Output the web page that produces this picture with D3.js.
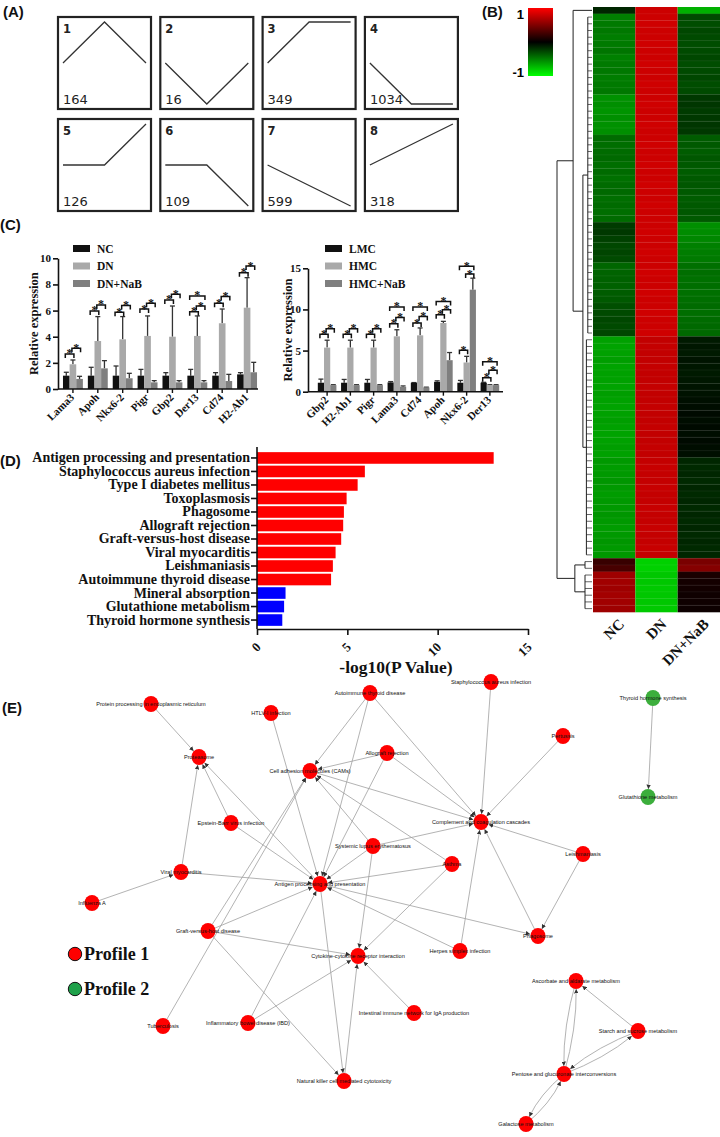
<!DOCTYPE html>
<html><head><meta charset="utf-8">
<script src="https://cdn.jsdelivr.net/npm/d3@7"></script>
<style>body{margin:0;background:#fff}</style>
</head><body><svg id="fig" width="720" height="1137"></svg>
<script>
// ================= DATA =================
// Panel A: STEM profiles
const profileIds = [1,2,3,4,5,6,7,8];
const profileShapes = [[0,1,0],[0,-1,0],[0,1,1],[0,-1,-1],[0,0,1],[0,0,-1],[0,-0.5,-1],[0,0.5,1]];
const profileCounts = [164,16,349,1034,126,109,599,318];

// Panel B: heatmap (rows x 3 groups)
const heatCols = ["NC","DN","DN+NaB"];
const heatNC = [
 -0.15,
 -0.50,-0.48,-0.47,-0.49,-0.48,-0.46,-0.50,-0.48,-0.47,-0.49,-0.48,-0.47,
 -0.57,-0.56,-0.58,-0.56,-0.57,-0.56,
 -0.42,-0.43,-0.42,-0.41,-0.43,-0.42,-0.44,-0.42,-0.41,-0.43,-0.42,-0.43,-0.42,
 -0.23,-0.22,-0.25,-0.28,-0.27,-0.29,
 -0.40,-0.39,-0.38,-0.38,-0.36,-0.35,-0.31,-0.29,-0.28,-0.29,-0.28,
 -0.63,-0.64,-0.63,-0.62,-0.64,-0.63,-0.63,-0.64,-0.62,-0.63,-0.64,-0.63,-0.62,-0.63,-0.64,-0.63,-0.62,-0.63,
 -0.60,-0.61,-0.60,-0.59,-0.60,-0.61,-0.60,-0.60,-0.59,-0.60,-0.61,-0.60,-0.59,-0.60,-0.60,
 0.22,0.28,
 0.62,0.63,0.62,0.64,0.63,0.62];
const heatDN = [
 0.80,
 0.80,0.81,0.80,0.80,0.81,0.80,0.80,0.81,0.80,0.80,0.81,0.80,
 0.80,0.81,0.80,0.80,0.81,0.80,
 0.80,0.81,0.80,0.80,0.81,0.80,0.80,0.81,0.80,0.80,0.81,0.80,0.80,
 0.80,0.81,0.80,0.80,0.81,0.80,
 0.80,0.81,0.80,0.80,0.81,0.80,0.80,0.81,0.80,0.80,0.81,
 0.76,0.77,0.76,0.76,0.77,0.76,0.76,0.77,0.76,0.76,0.77,0.76,0.76,0.77,0.76,0.76,0.77,0.76,
 0.77,0.78,0.77,0.77,0.78,0.77,0.77,0.78,0.77,0.77,0.78,0.77,0.77,0.78,0.77,
 -0.82,-0.82,
 -0.78,-0.78,-0.79,-0.78,-0.78,-0.79];
const heatNaB = [
 -0.69,
 -0.29,-0.30,-0.28,-0.29,-0.30,-0.29,-0.28,-0.30,-0.29,-0.28,-0.30,-0.29,
 -0.22,-0.21,-0.23,-0.22,-0.21,-0.22,
 -0.36,-0.35,-0.36,-0.34,-0.35,-0.36,-0.35,-0.34,-0.35,-0.36,-0.35,-0.34,-0.35,
 -0.56,-0.55,-0.53,-0.50,-0.49,-0.48,
 -0.44,-0.43,-0.44,-0.43,-0.44,-0.43,-0.42,-0.43,-0.42,-0.41,-0.41,
 -0.10,-0.09,-0.10,-0.08,-0.09,-0.10,-0.09,-0.08,-0.07,-0.06,-0.05,-0.04,-0.05,-0.04,-0.05,-0.04,-0.05,-0.06,
 -0.15,-0.16,-0.15,-0.16,-0.15,-0.16,-0.15,-0.16,-0.15,-0.16,-0.15,-0.16,-0.15,-0.16,-0.15,
 0.48,0.52,
 0.10,0.08,0.07,0.06,0.06,0.05];
// dendrogram: internal nodes {h, kids}, leaf groups {rows:[first,last], h}
const dendro = {h:1, kids:[
  {h:0.54, kids:[{rows:[0,0], h:0}, {h:0.26, kids:[{rows:[1,48], h:0.12},{rows:[49,81], h:0.16}]}]},
  {h:0.49, kids:[{rows:[82,83], h:0.2},{rows:[84,89], h:0.2}]}
]};

// Panel C left (in vivo)
const genesL = ["Lama3","Apoh","Nkx6-2","Pigr","Gbp2","Der13","Cd74","H2-Ab1"];
const seriesL = ["NC","DN","DN+NaB"];
const ncL   = [1.02,1.02,1.02,1.02,1.02,1.02,1.02,1.12];
const ncErrL= [0.26,0.64,0.74,0.48,0.23,0.48,0.23,0.13];
const dnL   = [1.89,3.67,3.80,4.06,4.00,4.06,5.03,6.22];
const dnErrL= [0.33,1.87,1.74,1.53,2.35,1.53,1.09,2.30];
const nabL  = [0.77,1.58,0.82,0.51,0.51,0.51,0.61,1.28];
const nabErrL=[0.20,0.59,0.38,0.13,0.13,0.13,0.51,0.76];
const sigL = [[0,0,1,2.68],[0,1,2,3.11],[1,0,1,5.97],[1,1,2,6.43],[2,0,1,5.87],[2,1,2,6.38],
  [3,0,1,6.12],[3,1,2,6.56],[4,0,1,6.81],[4,1,2,7.24],[5,0,1,5.92],[5,1,2,6.35],[5,0,2,7.12],
  [6,0,1,6.56],[6,1,2,7.07],[7,0,1,8.90],[7,1,2,9.41]];
const yTicksL = [0,2,4,6,8,10];

// Panel C right (in vitro)
const genesR = ["Gbp2","H2-Ab1","Pigr","Lama3","Cd74","Apoh","Nkx6-2","Der13"];
const seriesR = ["LMC","HMC","HMC+NaB"];
const lmcR   = [1.09,1.09,1.09,1.13,1.09,1.20,1.09,1.09];
const lmcErrR= [0.44,0.40,0.40,0.10,0.02,0.12,0.28,0.05];
const hmcR   = [5.36,5.36,5.36,6.73,6.85,8.35,3.55,0.80];
const hmcErrR= [0.90,0.90,0.90,0.80,0.90,0.20,0.75,0.05];
const nabR   = [0.80,0.80,0.80,0.60,0.52,3.83,12.40,0.80];
const nabErrR= [0.05,0.05,0.05,0.10,0.03,0.93,1.40,0.05];
const sigR = [[0,0,1,6.98],[0,1,2,7.66],[1,0,1,6.98],[1,1,2,7.66],[2,0,1,6.98],[2,1,2,7.66],
  [3,0,1,8.27],[3,1,2,9.03],[3,0,2,10.3],[4,0,1,8.35],[4,1,2,9.15],[4,0,2,10.3],
  [5,0,1,9.35],[5,1,2,9.96],[5,0,2,10.97],[6,0,1,5.04],[6,1,2,14.3],[6,0,2,15.24],
  [7,0,1,1.69],[7,1,2,2.62],[7,0,2,3.63]];
const yTicksR = [0,5,10,15];

// Panel D: KEGG enrichment
const pathways = ["Antigen processing and presentation","Staphylococcus aureus infection","Type I diabetes mellitus",
  "Toxoplasmosis","Phagosome","Allograft rejection","Graft-versus-host disease","Viral myocarditis",
  "Leishmaniasis","Autoimmune thyroid disease","Mineral absorption","Glutathione metabolism","Thyroid hormone synthesis"];
const logP = [13.1,5.97,5.57,4.96,4.81,4.77,4.66,4.35,4.2,4.1,1.58,1.5,1.4];
const pathwayProfile = [1,1,1,1,1,1,1,1,1,1,2,2,2];
const xTicksD = [0,5,10,15];

// Panel E: pathway network
const netNames = ["Protein processing in endoplasmic reticulum","HTLV-I infection","Autoimmune thyroid disease",
  "Staphylococcus aureus infection","Thyroid hormone synthesis","Pertussis","Proteasome","Allograft rejection",
  "Cell adhesion molecules (CAMs)","Glutathione metabolism","Complement and coagulation cascades",
  "Epstein-Barr virus infection","Systemic lupus erythematosus","Leishmaniasis","Asthma","Viral myocarditis",
  "Antigen processing and presentation","Influenza A","Graft-versus-host disease","Phagosome",
  "Herpes simplex infection","Cytokine-cytokine receptor interaction","Ascorbate and aldarate metabolism",
  "Intestinal immune network for IgA production","Inflammatory bowel disease (IBD)","Tuberculosis",
  "Starch and sucrose metabolism","Pentose and glucuronate interconversions",
  "Natural killer cell mediated cytotoxicity","Galactose metabolism"];
const netProfile = [1,1,1,1,2,1,1,1,1,2,1,1,1,1,1,1,1,1,1,1,1,1,1,1,1,1,1,1,1,1];
// network layout (layout units from the original force layout)
const netLayout = [[151,74],[271,83],[370,63],[491,52],[653,68],[563,106],[199,127],[387,123],[310,141],
  [648,167],[481,192],[231,193],[373,216],[583,224],[452,234],[181,242],[320,254],[92,273],[208,301],
  [538,306],[460,321],[358,326],[576,351],[414,383],[248,393],[163,396],[638,401],[564,444],[344,451],[526,494]];
// edges [source, target, curved]
const netEdges = [[0,6],[11,6],[15,6],[16,6],[17,15],[11,16],[15,16],[1,16],
  [2,8],[2,16],[2,10],[7,8],[7,16],[7,10],[3,10],[5,10],[13,10],[13,19],[8,10],
  [12,8],[12,16],[12,10],[12,21],[14,16],[14,8],[14,21],[20,10],[20,16],[16,19],[19,10],
  [18,21],[18,16],[18,8],[18,28],[24,21],[24,16],[23,21],[25,8],[16,28],[28,21],[4,9],
  [22,27,1],[27,22,1],[26,22],[26,27,1],[27,26,1],[29,27,1],[27,29,1]];
const legendE = ["Profile 1","Profile 2"];

// ================= DRAWING =================
const SERIF = "'Liberation Serif','Times New Roman',serif";
const SANS = "'Liberation Sans',Arial,sans-serif";
const svg = d3.select("#fig");
svg.append("rect").attr("width",720).attr("height",1137).attr("fill","#fff");

function panelLabel(t,x,y){
  svg.append("text").attr("x",x).attr("y",y).text(t).attr("font-family",SANS)
    .attr("font-weight","bold").attr("font-size",15).attr("fill","#111");
}
panelLabel("(A)",3,17); panelLabel("(B)",482,17); panelLabel("(C)",0,230);
panelLabel("(D)",0,466); panelLabel("(E)",2,713);

// ---------- Panel A ----------
profileIds.forEach((id,i)=>{
  const bx = 58 + (i%4)*102.3, by = 17 + Math.floor(i/4)*102;
  const g = svg.append("g").attr("transform",`translate(${bx},${by})`);
  g.append("rect").attr("width",93).attr("height",92).attr("fill","#fff")
    .attr("stroke","#222").attr("stroke-width",2.2);
  const xs = d3.scaleLinear().domain([0,2]).range([5,88]);
  const ys = d3.scaleLinear().domain([-1,1]).range([87,5]);
  g.append("path").datum(profileShapes[i]).attr("d",d3.line().x((d,j)=>xs(j)).y(d=>ys(d)))
    .attr("fill","none").attr("stroke","#333").attr("stroke-width",1.3);
  g.append("text").attr("x",5).attr("y",16).text(id).attr("font-family","'DejaVu Sans',sans-serif")
    .attr("font-weight","bold").attr("font-size",11.5).attr("fill","#222");
  g.append("text").attr("x",5).attr("y",87).text(profileCounts[i]).attr("font-family","'DejaVu Sans',sans-serif")
    .attr("font-size",13).attr("fill","#222");
});

// ---------- Panel B ----------
(function(){
  const nRows = heatNC.length;
  const colX = d3.scaleBand().domain(heatCols).range([593,720]);
  const rowY = d3.scaleBand().domain(d3.range(nRows)).range([7,612]);
  const color = d3.scaleLinear().domain([-1,0,1]).range(["#00ff00","#000000","#ff0000"]);
  const cols = [heatNC,heatDN,heatNaB];
  const g = svg.append("g");
  cols.forEach((arr,ci)=>{
    g.selectAll(null).data(arr).join("rect")
      .attr("x",colX(heatCols[ci])).attr("y",(d,r)=>rowY(r))
      .attr("width",colX.bandwidth()).attr("height",rowY.bandwidth()+0.3)
      .attr("fill",d=>color(d));
  });
  g.selectAll(null).data(d3.range(1,nRows)).join("line")
    .attr("x1",593).attr("x2",720).attr("y1",r=>rowY(r)).attr("y2",r=>rowY(r))
    .attr("stroke","rgba(255,255,255,0.10)").attr("stroke-width",0.6);
  const hx = d3.scaleLinear().domain([0,1]).range([592,557]);
  const ry = r => rowY(r)+rowY.bandwidth()/2;
  const dg = svg.append("g").attr("stroke","#222").attr("stroke-width",1).attr("fill","none");
  function lay(node){
    if(node.rows){
      const [a,b] = node.rows;
      if(a===b){ return {y:ry(a), h:node.h}; }
      const x = hx(node.h);
      dg.append("line").attr("x1",x).attr("x2",x).attr("y1",ry(a)).attr("y2",ry(b));
      d3.range(a,b+1).forEach(r=>dg.append("line").attr("x1",x).attr("x2",hx(0)).attr("y1",ry(r)).attr("y2",ry(r)).attr("stroke-width",0.7));
      return {y:(ry(a)+ry(b))/2, h:node.h};
    }
    const ch = node.kids.map(lay);
    const x = hx(node.h);
    dg.append("line").attr("x1",x).attr("x2",x).attr("y1",ch[0].y).attr("y2",ch[1].y);
    ch.forEach(c=>dg.append("line").attr("x1",x).attr("x2",hx(c.h)).attr("y1",c.y).attr("y2",c.y));
    return {y:(ch[0].y+ch[1].y)/2, h:node.h};
  }
  lay(dendro);
  heatCols.forEach(c=>{
    svg.append("text").attr("transform",`translate(${colX(c)+colX.bandwidth()/2+11},625) rotate(-45)`)
      .attr("text-anchor","end").text(c).attr("font-family",SERIF).attr("font-weight","bold")
      .attr("font-size",15).attr("fill","#111");
  });
  const defs = svg.append("defs");
  const grad = defs.append("linearGradient").attr("id","hg").attr("x1",0).attr("x2",0).attr("y1",0).attr("y2",1);
  [[0,1],[0.5,0],[1,-1]].forEach(([o,v])=>grad.append("stop").attr("offset",o).attr("stop-color",color(v)));
  svg.append("rect").attr("x",528).attr("y",8).attr("width",25).attr("height",68).attr("fill","url(#hg)");
  svg.append("text").attr("x",524).attr("y",19).attr("text-anchor","end").text("1")
    .attr("font-family",SANS).attr("font-weight","bold").attr("font-size",13);
  svg.append("text").attr("x",524).attr("y",77).attr("text-anchor","end").text("-1")
    .attr("font-family",SANS).attr("font-weight","bold").attr("font-size",13);
})();

// ---------- Panel C ----------
function drawBars(cfg){
  const g = svg.append("g");
  const x0 = d3.scaleBand().domain(cfg.genes).range([cfg.x1,cfg.x2]).paddingInner(0.2).paddingOuter(cfg.po);
  const xs = d3.scaleBand().domain([0,1,2]).range([0,x0.bandwidth()]);
  const y = d3.scaleLinear().domain([0,cfg.ymax]).range([cfg.y0,cfg.yTop]);
  const colors = ["#111111","#a9a9a9","#7f7f7f"];
  cfg.genes.forEach((gn,i)=>{
    [0,1,2].forEach(s=>{
      const v = cfg.vals[s][i], e = cfg.errs[s][i];
      const bx = x0(gn)+xs(s), bw = xs.bandwidth(), cx = bx+bw/2;
      g.append("line").attr("x1",cx).attr("x2",cx).attr("y1",y(v)).attr("y2",y(v+e)).attr("stroke","#333").attr("stroke-width",1.3);
      g.append("line").attr("x1",cx-2.5).attr("x2",cx+2.5).attr("y1",y(v+e)).attr("y2",y(v+e)).attr("stroke","#333").attr("stroke-width",1.3);
      g.append("rect").attr("x",bx).attr("y",y(v)).attr("width",bw).attr("height",y(0)-y(v)).attr("fill",colors[s]);
    });
  });
  cfg.sig.forEach(([gi,a,b,h])=>{
    const gn = cfg.genes[gi];
    const xa = x0(gn)+xs(a)+xs.bandwidth()/2-1, xb = x0(gn)+xs(b)+xs.bandwidth()/2+1, yy = y(h);
    g.append("path").attr("d",`M${xa},${yy+4}V${yy}H${xb}V${yy+4}`).attr("fill","none").attr("stroke","#111").attr("stroke-width",1.5);
    g.append("text").attr("x",(xa+xb)/2).attr("y",yy+3.5).attr("text-anchor","middle").text("*")
      .attr("font-family",SERIF).attr("font-weight","bold").attr("font-size",12).attr("fill","#111");
  });
  const ya = g.append("g").attr("transform",`translate(${cfg.ax},0)`)
    .call(d3.axisLeft(y).tickValues(cfg.ticks).tickSize(5).tickSizeOuter(0).tickPadding(2));
  ya.selectAll("path,line").attr("stroke","#111").attr("stroke-width",1.6);
  ya.selectAll("text").attr("font-family",SERIF).attr("font-weight","bold").attr("font-size",11).attr("fill","#111");
  g.append("line").attr("x1",cfg.ax).attr("x2",cfg.axEnd).attr("y1",cfg.y0).attr("y2",cfg.y0).attr("stroke","#111").attr("stroke-width",1.6);
  cfg.genes.forEach(gn=>{
    const cx = x0(gn)+x0.bandwidth()/2;
    g.append("line").attr("x1",cx).attr("x2",cx).attr("y1",cfg.y0).attr("y2",cfg.y0+4).attr("stroke","#111").attr("stroke-width",1.4);
    g.append("text").attr("transform",`translate(${cx+2},${cfg.y0+9}) rotate(-45)`).attr("text-anchor","end")
      .text(gn).attr("font-family",SERIF).attr("font-weight","bold").attr("font-size",11).attr("fill","#111");
  });
  g.append("text").attr("transform",`translate(${cfg.titleX},${(cfg.y0+cfg.yTop)/2}) rotate(-90)`)
    .attr("text-anchor","middle").text("Relative expression").attr("font-family",SERIF)
    .attr("font-weight","bold").attr("font-size",12.5).attr("fill","#111");
  cfg.series.forEach((s,k)=>{
    g.append("rect").attr("x",cfg.legX).attr("y",245+k*17.5).attr("width",17).attr("height",7).attr("fill",colors[k]);
    g.append("text").attr("x",cfg.legX+24).attr("y",252.5+k*17.5).text(s).attr("font-family",SERIF)
      .attr("font-weight","bold").attr("font-size",11.5).attr("fill","#111");
  });
}
drawBars({genes:genesL, series:seriesL, vals:[ncL,dnL,nabL], errs:[ncErrL,dnErrL,nabErrL], sig:sigL,
  ticks:yTicksL, ymax:10, x1:58, x2:262, po:0.2, ax:58, axEnd:258, y0:389, yTop:258.3, titleX:38, legX:73});
drawBars({genes:genesR, series:seriesR, vals:[lmcR,hmcR,nabR], errs:[lmcErrR,hmcErrR,nabErrR], sig:sigR,
  ticks:yTicksR, ymax:15, x1:312, x2:505, po:0.25, ax:308, axEnd:503, y0:391.7, yTop:268.3, titleX:292, legX:325});

// ---------- Panel D ----------
(function(){
  const g = svg.append("g");
  const x = d3.scaleLinear().domain([0,15]).range([257,528]);
  const y = d3.scaleBand().domain(pathways).range([451.2,626.8]).paddingInner(0.14).paddingOuter(0.07);
  g.selectAll(null).data(pathways).join("rect")
    .attr("x",x(0)).attr("y",d=>y(d)).attr("width",(d,i)=>x(logP[i])-x(0)).attr("height",y.bandwidth())
    .attr("fill",(d,i)=>pathwayProfile[i]===1?"#ff0000":"#0000ff");
  const ya = g.append("g").attr("transform",`translate(${x(0)},0)`)
    .call(d3.axisLeft(y).tickSize(6).tickSizeOuter(0).tickPadding(1));
  ya.select(".domain").attr("d",`M0,447V629`);
  ya.selectAll("path,line").attr("stroke","#111").attr("stroke-width",1.6);
  ya.selectAll("text").attr("font-family",SERIF).attr("font-weight","bold").attr("font-size",14).attr("fill","#111");
  const xa = g.append("g").attr("transform",`translate(0,629)`)
    .call(d3.axisBottom(x).tickValues(xTicksD).tickSize(6).tickSizeOuter(0).tickFormat(d3.format("d")));
  xa.selectAll("path,line").attr("stroke","#111").attr("stroke-width",1.6);
  xa.selectAll("text").attr("text-anchor","end").attr("dy",null).attr("y",null)
    .attr("transform","translate(4,19) rotate(-45)")
    .attr("font-family",SERIF).attr("font-weight","bold").attr("font-size",13).attr("fill","#111");
  g.append("text").attr("x",396).attr("y",673).attr("text-anchor","middle").text("-log10(P Value)")
    .attr("font-family",SERIF).attr("font-weight","bold").attr("font-size",17.5).attr("fill","#111");
})();

// ---------- Panel E ----------
(function(){
  const lx = d3.scaleLinear().domain([0,720]).range([0,720]);
  const ly = d3.scaleLinear().domain([0,500]).range([630,1130]);
  const P = netLayout.map(([a,b])=>[lx(a),ly(b)]);
  const R = 8;
  const defs = svg.append("defs");
  defs.append("marker").attr("id","arr").attr("viewBox","0 0 10 10").attr("refX",10).attr("refY",5)
    .attr("markerWidth",4.5).attr("markerHeight",4.5).attr("markerUnits","userSpaceOnUse").attr("orient","auto")
    .append("path").attr("d","M0,0L10,5L0,10z").attr("fill","#333");
  const eg = svg.append("g");
  netEdges.forEach(([s,t,c])=>{
    const [x1,y1] = P[s], [x2,y2] = P[t];
    const dx = x2-x1, dy = y2-y1, L = Math.hypot(dx,dy);
    if(!c){
      eg.append("line").attr("x1",x1).attr("y1",y1).attr("x2",x2-dx/L*R).attr("y2",y2-dy/L*R)
        .attr("stroke","#a0a0a0").attr("stroke-width",0.8).attr("marker-end","url(#arr)");
    } else {
      const nx = -dy/L, ny = dx/L, off = 7;
      const cx = (x1+x2)/2+nx*off, cy = (y1+y2)/2+ny*off;
      const ex = x2-cx, ey = y2-cy, eL = Math.hypot(ex,ey);
      eg.append("path").attr("d",`M${x1},${y1}Q${cx},${cy} ${x2-ex/eL*R},${y2-ey/eL*R}`)
        .attr("fill","none").attr("stroke","#a0a0a0").attr("stroke-width",0.8).attr("marker-end","url(#arr)");
    }
  });
  const ng = svg.append("g");
  netNames.forEach((n,i)=>{
    ng.append("ellipse").attr("cx",P[i][0]).attr("cy",P[i][1]).attr("rx",7.5).attr("ry",8)
      .attr("fill",netProfile[i]===1?"#ff0000":"#3cae3c");
  });
  netNames.forEach((n,i)=>{
    ng.append("text").attr("x",P[i][0]).attr("y",P[i][1]+2).attr("text-anchor","middle").text(n)
      .attr("font-family",SANS).attr("font-size",5.6).attr("fill","#111");
  });
  legendE.forEach((t,k)=>{
    svg.append("circle").attr("cx",75).attr("cy",954+k*35).attr("r",6.7)
      .attr("fill",k===0?"#ff0000":"#1fa14a").attr("stroke","#111").attr("stroke-width",1);
    svg.append("text").attr("x",84).attr("y",960+k*35).text(t).attr("font-family",SERIF)
      .attr("font-weight","bold").attr("font-size",18).attr("fill","#111");
  });
})();
</script></body></html>
